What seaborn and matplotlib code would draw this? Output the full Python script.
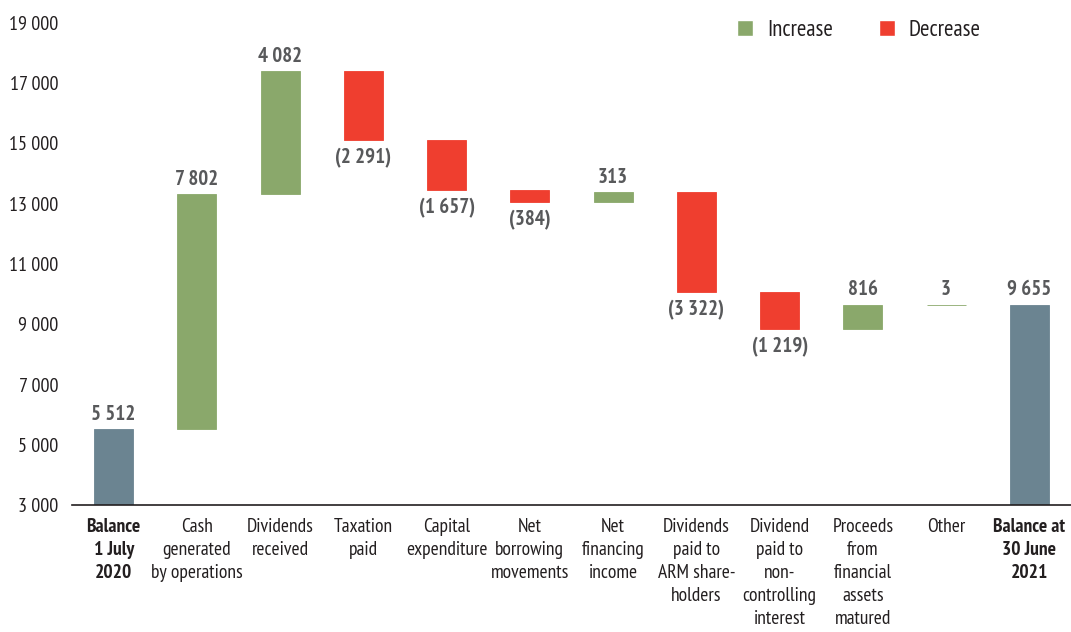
import matplotlib
matplotlib.use("Agg")
import matplotlib.pyplot as plt
from matplotlib import font_manager as fm
from matplotlib.patches import Patch
from matplotlib.ticker import FuncFormatter
import seaborn as sns
import pandas as pd

# Cash flow movements for the year (R million)
categories = [
    "Balance\n1 July\n2020",
    "Cash\ngenerated\nby operations",
    "Dividends\nreceived",
    "Taxation\npaid",
    "Capital\nexpenditure",
    "Net\nborrowing\nmovements",
    "Net\nfinancing\nincome",
    "Dividends\npaid to\nARM share-\nholders",
    "Dividend\npaid to\nnon-\ncontrolling\ninterest",
    "Proceeds\nfrom\nfinancial\nassets\nmatured",
    "Other",
    "Balance at\n30 June\n2021",
]
opening_balance = 5512
movements = [7802, 4082, -2291, -1657, -384, 313, -3322, -1219, 816, 3]
closing_balance = 9655
y_ticks = [3000, 5000, 7000, 9000, 11000, 13000, 15000, 17000, 19000]

BAL = "#6b8491"
INC = "#8aa86b"
DEC = "#ef3e2f"
LABEL = "#58595b"
TEXT = "#231f20"

sns.set_style("white")
installed = {f.name for f in fm.fontManager.ttflist}
preferred = ["Arial Narrow", "Liberation Sans Narrow", "PT Sans Narrow",
             "Roboto Condensed", "Barlow Condensed"]
narrow = [f for f in preferred if f in installed]
plt.rcParams["font.family"] = narrow[:1] + ["DejaVu Sans"]

# Waterfall geometry: each movement floats on the running total
bottoms, heights, colors = [0], [opening_balance], [BAL]
running = opening_balance
for m in movements:
    if m >= 0:
        bottoms.append(running)
        heights.append(m)
        colors.append(INC)
    else:
        bottoms.append(running + m)
        heights.append(-m)
        colors.append(DEC)
    running += m
bottoms.append(0)
heights.append(closing_balance)
colors.append(BAL)

df = pd.DataFrame({"category": categories, "height": heights, "bottom": bottoms})

fig = plt.figure(figsize=(10.71, 6.32), dpi=100)
ax = fig.add_axes([72 / 1071, 1 - 505 / 632, 1 - 72 / 1071, (505 - 23) / 632])

sns.barplot(data=df, x="category", y="height", bottom=df["bottom"].to_numpy(),
            order=categories, width=0.47, errorbar=None, color=INC, ax=ax)
for patch, c in zip(ax.patches, colors):
    patch.set_facecolor(c)
    patch.set_edgecolor(c)
    patch.set_linewidth(0.6)

ax.set_ylim(3000, 19000)
ax.set_xlim(-0.5, len(categories) - 0.5)
ax.set_yticks(y_ticks)
ax.yaxis.set_major_formatter(FuncFormatter(lambda v, _: f"{int(v):,}".replace(",", " ")))
ax.tick_params(axis="both", length=0, labelsize=14, colors=TEXT)
ax.tick_params(axis="y", pad=10, labelsize=14.5)
ax.tick_params(axis="x", pad=9)
ax.set_xlabel("")
ax.set_ylabel("")
for lab in ax.get_xticklabels():
    lab.set_linespacing(1.36)
for i in (0, len(categories) - 1):
    ax.get_xticklabels()[i].set_fontweight("bold")

for side in ("left", "right", "top"):
    ax.spines[side].set_visible(False)
ax.spines["bottom"].set_color("#231f20")
ax.spines["bottom"].set_linewidth(1.2)

def fmt(v):
    s = f"{abs(v):,}".replace(",", " ")
    return f"({s})" if v < 0 else s

values = [opening_balance] + movements + [closing_balance]
for i, (v, b, h) in enumerate(zip(values, bottoms, heights)):
    if v >= 0:
        ax.text(i, b + h + 190, fmt(v), ha="center", va="bottom",
                fontsize=15, fontweight="bold", color=LABEL)
    else:
        ax.text(i, b - 260, fmt(v), ha="center", va="top",
                fontsize=15, fontweight="bold", color=LABEL)

handles = [Patch(facecolor=INC, label="Increase"), Patch(facecolor=DEC, label="Decrease")]
ax.legend(handles=handles, ncol=2, frameon=False, loc="upper right",
          bbox_to_anchor=(0.93, 1.05), fontsize=16.5, handlelength=0.7,
          handleheight=0.7, handletextpad=0.6, columnspacing=2.0,
          labelcolor=TEXT)

fig.savefig("out.png", dpi=100)
